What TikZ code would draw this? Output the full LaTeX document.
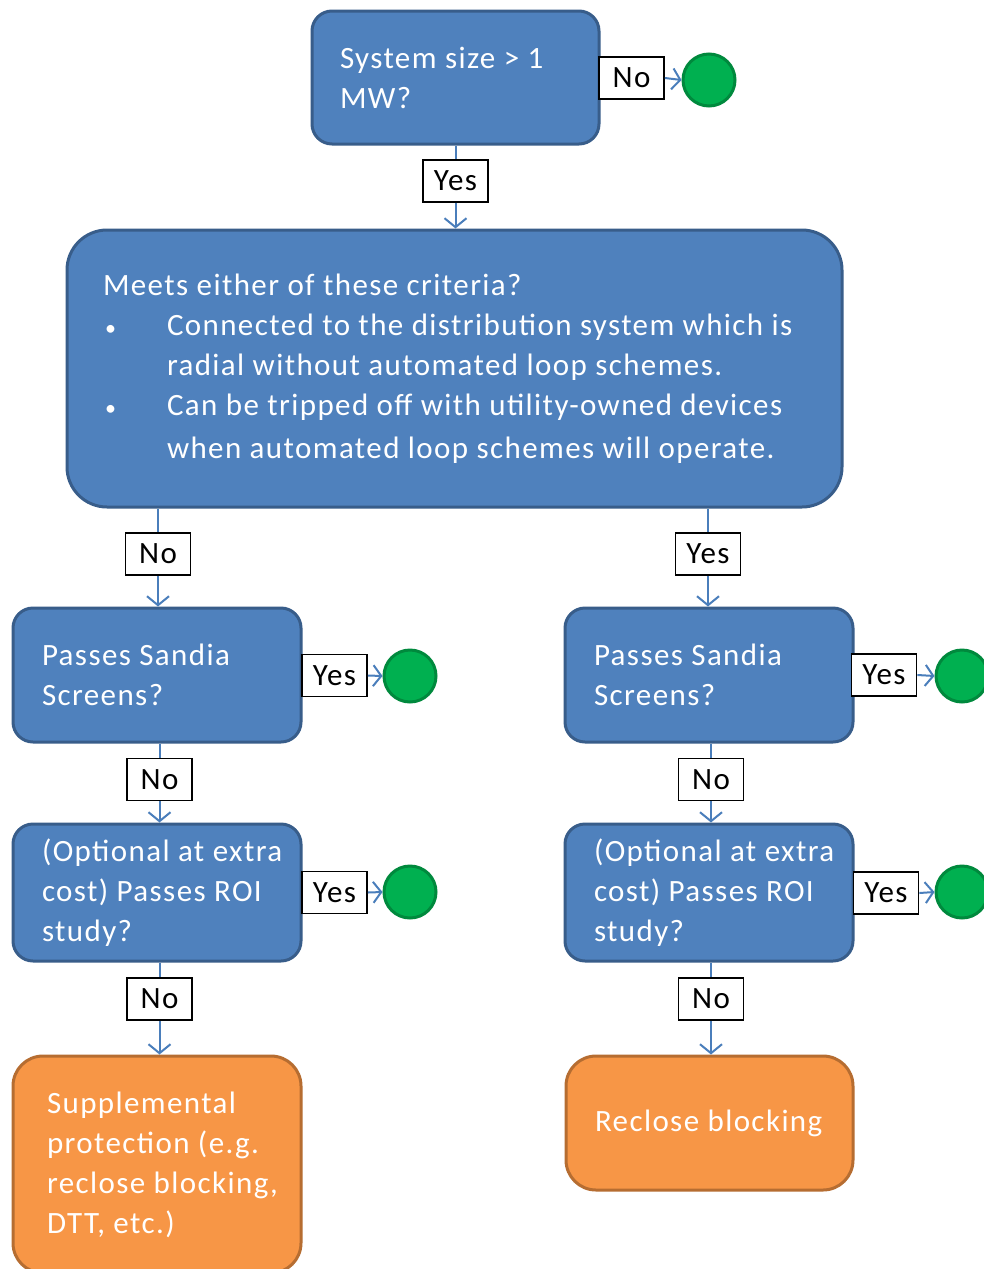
\documentclass[tikz,border=0pt]{standalone}
\usepackage{fontspec}
\setmainfont[LetterSpace=4.5]{Carlito}
\newfontfamily\bulletfont{Carlito}
\usetikzlibrary{arrows.meta}
\definecolor{bfill}{HTML}{4F81BD}
\definecolor{bborder}{HTML}{385D8A}
\definecolor{ofill}{HTML}{F79646}
\definecolor{oborder}{HTML}{B66D31}
\definecolor{gfill}{HTML}{00B050}
\definecolor{gborder}{HTML}{00893D}
\definecolor{lblue}{HTML}{4A7EBB}
\newcommand{\bul}{\makebox[64pt][l]{\hspace{2pt}{\bulletfont\fontsize{22}{22}\selectfont •}}}
\newcommand{\tl}[1]{\mbox{#1}}
\begin{document}
\begin{tikzpicture}[x=1pt,y=-1pt,
  txt/.style={font=\fontsize{31}{40}\selectfont},
  bluebox/.style={txt, draw=bborder, fill=bfill, line width=3pt, rounded corners=20pt,
    text=white, align=flush left, inner ysep=0pt},
  orangebox/.style={bluebox, draw=oborder, fill=ofill, rounded corners=30pt},
  lbl/.style={txt, draw=black, line width=1.8pt, fill=white, minimum width=65pt,
    minimum height=42pt, inner sep=0pt},
  endc/.style={circle, draw=gborder, fill=gfill, line width=3pt, minimum size=52pt, inner sep=0pt},
  conn/.style={draw=lblue, line width=2pt},
  arr/.style={conn, -{Straight Barb[length=9pt,width=22pt]}},
  harr/.style={conn, -{Straight Barb[length=8pt,width=21pt]}}
]
\clip (0,0) rectangle (984,1269);
\fill[white] (0,0) rectangle (984,1269);

% boxes
\node[bluebox, minimum height=133pt, text width=231pt, inner xsep=28pt] (top) at (455.5,77.5)
  {\tl{System size > 1}\\\tl{MW?}};
\node[bluebox, rounded corners=40pt, minimum height=277pt, text width=703pt, inner xsep=36pt] (big) at (454.5,368.5)
  {\tl{Meets either of these criteria?}\\
   \tl{\bul Connected to the distribution system which is}\\
   \tl{\hspace*{64pt}radial without automated loop schemes.}\\
   \tl{\bul Can be tripped off with utility-owned devices}\\[3pt]
   \tl{\hspace*{64pt}when automated loop schemes will operate.}};
\node[bluebox, minimum height=134pt, text width=230pt, inner xsep=29pt] (sandL) at (157,675)
  {\tl{Passes Sandia}\\\tl{Screens?}};
\node[bluebox, minimum height=134pt, text width=230pt, inner xsep=29pt] (sandR) at (709,675)
  {\tl{Passes Sandia}\\\tl{Screens?}};
\node[bluebox, minimum height=137pt, text width=230pt, inner xsep=29pt] (roiL) at (157,892.5)
  {\tl{(Optional at extra}\\\tl{cost) Passes ROI}\\\tl{study?}};
\node[bluebox, minimum height=137pt, text width=230pt, inner xsep=29pt] (roiR) at (709,892.5)
  {\tl{(Optional at extra}\\\tl{cost) Passes ROI}\\\tl{study?}};
\node[orangebox, minimum height=217pt, text width=228pt, inner xsep=30pt] (suppl) at (157,1164.5)
  {\tl{\hspace*{4pt}Supplemental}\\\tl{\hspace*{4pt}protection (e.g.}\\\tl{\hspace*{4pt}reclose blocking,}\\\tl{\hspace*{4pt}DTT, etc.)}};
\node[orangebox, minimum height=134pt, text width=229pt, inner xsep=29pt] (reclose) at (709.5,1123)
  {\tl{Reclose blocking}};

% labels
\node[lbl] (no0) at (631.5,78) {No};
\node[lbl] (yes0) at (455.5,181) {Yes};
\node[lbl] (noL1) at (158,554) {No};
\node[lbl] (yesR1) at (708,554) {Yes};
\node[lbl] (yesL2) at (334.5,675.5) {Yes};
\node[lbl] (yesR2) at (884,675) {Yes};
\node[lbl] (noL3) at (159.5,779.5) {No};
\node[lbl] (noR3) at (711,779.5) {No};
\node[lbl] (yesL4) at (334.5,892.5) {Yes};
\node[lbl] (yesR4) at (886,893) {Yes};
\node[lbl] (noL5) at (159.5,999) {No};
\node[lbl] (noR5) at (711,999) {No};

% end circles
\node[endc] (c0) at (709,80) {};
\node[endc] (cL2) at (410,676) {};
\node[endc] (cR2) at (962,676) {};
\node[endc] (cL4) at (410,892) {};
\node[endc] (cR4) at (962,892) {};

% connectors
\draw[harr] (no0.east) -- (c0.west);
\draw[conn] (top.south -| yes0) -- (yes0.north);
\draw[arr] (yes0.south) -- (yes0.south |- big.north);

\draw[conn] (big.south -| noL1) -- (noL1.north);
\draw[arr] (noL1.south) -- (noL1.south |- sandL.north);
\draw[conn] (big.south -| yesR1) -- (yesR1.north);
\draw[arr] (yesR1.south) -- (yesR1.south |- sandR.north);

\draw[harr] (yesL2.east) -- (cL2.west);
\draw[harr] (yesR2.east) -- (cR2.west);

\draw[conn] (sandL.south -| noL3) -- (noL3.north);
\draw[arr] (noL3.south) -- (noL3.south |- roiL.north);
\draw[conn] (sandR.south -| noR3) -- (noR3.north);
\draw[arr] (noR3.south) -- (noR3.south |- roiR.north);

\draw[harr] (yesL4.east) -- (cL4.west);
\draw[harr] (yesR4.east) -- (cR4.west);

\draw[conn] (roiL.south -| noL5) -- (noL5.north);
\draw[arr] (noL5.south) -- (noL5.south |- suppl.north);
\draw[conn] (roiR.south -| noR5) -- (noR5.north);
\draw[arr] (noR5.south) -- (noR5.south |- reclose.north);
\end{tikzpicture}
\end{document}
